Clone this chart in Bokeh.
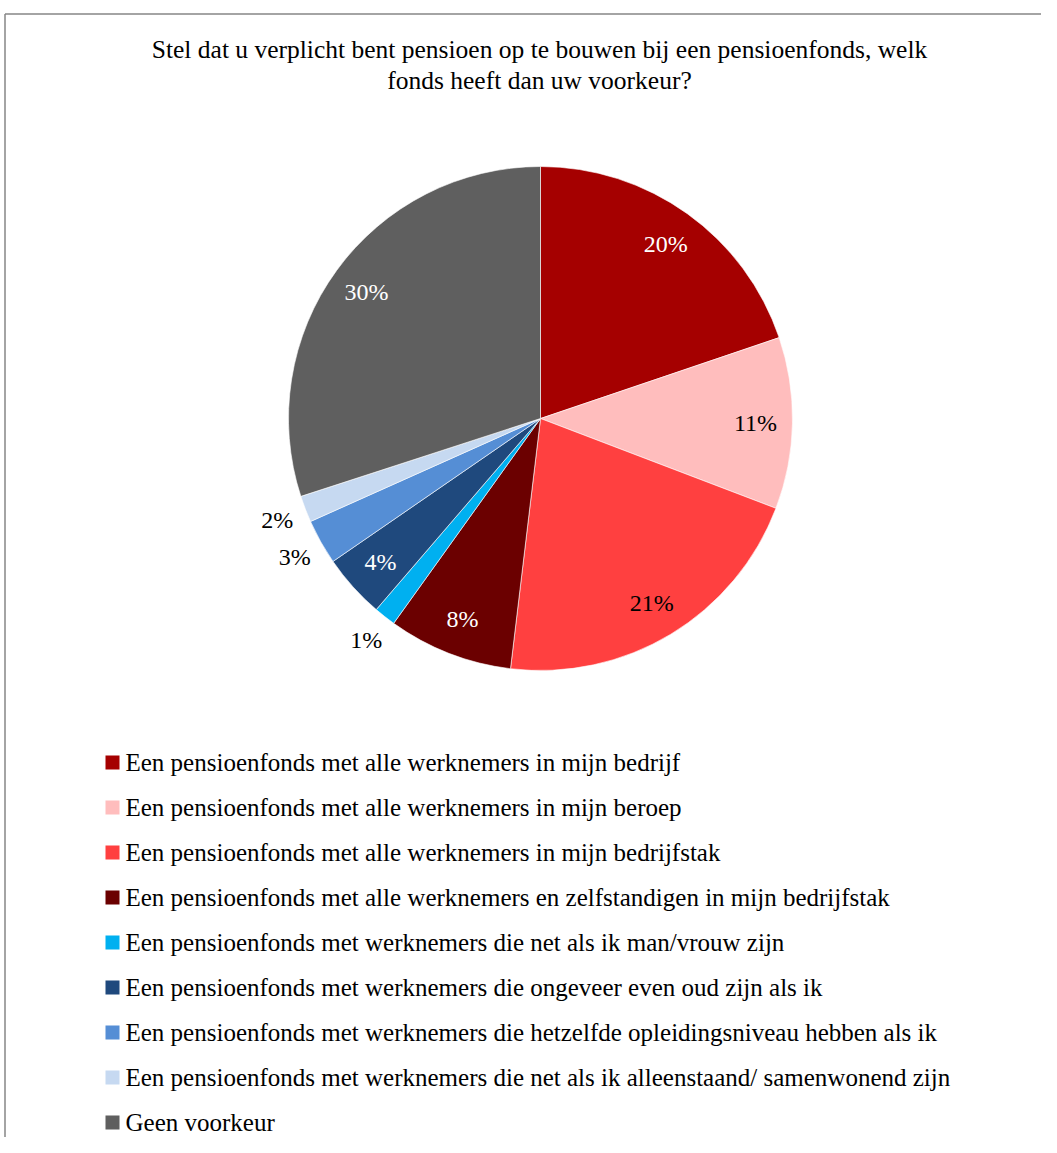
import math
from bokeh.plotting import figure
from bokeh.models import Range1d, ColumnDataSource
from bokeh.core.properties import value
from bokeh.embed import file_html
from bokeh.resources import INLINE

# ---- data ----
title_lines = [
    "Stel dat u verplicht bent pensioen op te bouwen bij een pensioenfonds, welk",
    "fonds heeft dan uw voorkeur?",
]
categories = [
    "Een pensioenfonds met alle werknemers in mijn bedrijf",
    "Een pensioenfonds met alle werknemers in mijn beroep",
    "Een pensioenfonds met alle werknemers in mijn bedrijfstak",
    "Een pensioenfonds met alle werknemers en zelfstandigen in mijn bedrijfstak",
    "Een pensioenfonds met werknemers die net als ik man/vrouw zijn",
    "Een pensioenfonds met werknemers die ongeveer even oud zijn als ik",
    "Een pensioenfonds met werknemers die hetzelfde opleidingsniveau hebben als ik",
    "Een pensioenfonds met werknemers die net als ik alleenstaand/ samenwonend zijn",
    "Geen voorkeur",
]
values = [19.8, 11.0, 21.1, 8.0, 1.4, 4.1, 2.9, 1.7, 30.0]

# ---- style ----
colors = ["#A50000", "#FFBDBD", "#FF4040", "#6B0000", "#00B0F0",
          "#1F497D", "#558ED5", "#C6D9F1", "#5F5F5F"]
label_colors = ["white", "black", "black", "white", "black",
                "white", "black", "black", "white"]
FONT = value("Liberation Serif")

W, H = 1041, 1137
def py(y):
    return H - y

p = figure(width=W, height=H, output_backend="svg", toolbar_location=None,
           x_range=Range1d(0, W), y_range=Range1d(0, H), min_border=0)
p.axis.visible = False
p.xgrid.visible = False
p.ygrid.visible = False
p.outline_line_color = None
p.background_fill_color = "white"

# border of chart area
p.line([4.5, 4.5], [py(13.5), 0], line_color="#868686", line_width=1.5)
p.line([4.5, W], [py(13.5), py(13.5)], line_color="#868686", line_width=1.5)

# title
p.text(x=[539] * 2, y=[py(49), py(80)], text=title_lines,
       text_font=FONT, text_font_size="25.5px", text_align="center",
       text_baseline="middle", text_color="#000000")

# pie
cx, cy, R = 540, py(418), 252
total = sum(values)
starts, ends, mids = [], [], []
cum = 0.0
for v in values:
    a0 = math.pi / 2 - cum / total * 2 * math.pi
    cum += v
    a1 = math.pi / 2 - cum / total * 2 * math.pi
    starts.append(a0)
    ends.append(a1)
    mids.append((a0 + a1) / 2)

src = ColumnDataSource(dict(start=starts, end=ends, color=colors))
p.wedge(x=cx, y=cy, radius=R, start_angle="start", end_angle="end",
        direction="clock", fill_color="color", line_color="white",
        line_width=0.6, source=src)

# data labels
lx, ly, lt = [], [], []
for v, m in zip(values, mids):
    r = 215 if v >= 3.5 else 282
    lx.append(cx + r * math.cos(m))
    ly.append(cy + r * math.sin(m))
    lt.append(f"{round(v)}%")
p.text(x=lx, y=ly, text=lt, text_color=label_colors, text_font=FONT,
       text_font_size="24px", text_align="center", text_baseline="middle")

# legend
leg_y0, leg_dy = 762, 45.0
centers = [leg_y0 + i * leg_dy for i in range(len(categories))]
p.rect(x=[112] * len(categories), y=[py(c) for c in centers], width=14, height=14,
       fill_color=colors, line_color=None)
p.text(x=[125] * len(categories), y=[py(c) for c in centers], text=categories,
       text_font=FONT, text_font_size="25px", text_align="left",
       text_baseline="middle", text_color="#000000")

open("out.html", "w").write(file_html(p, INLINE))
